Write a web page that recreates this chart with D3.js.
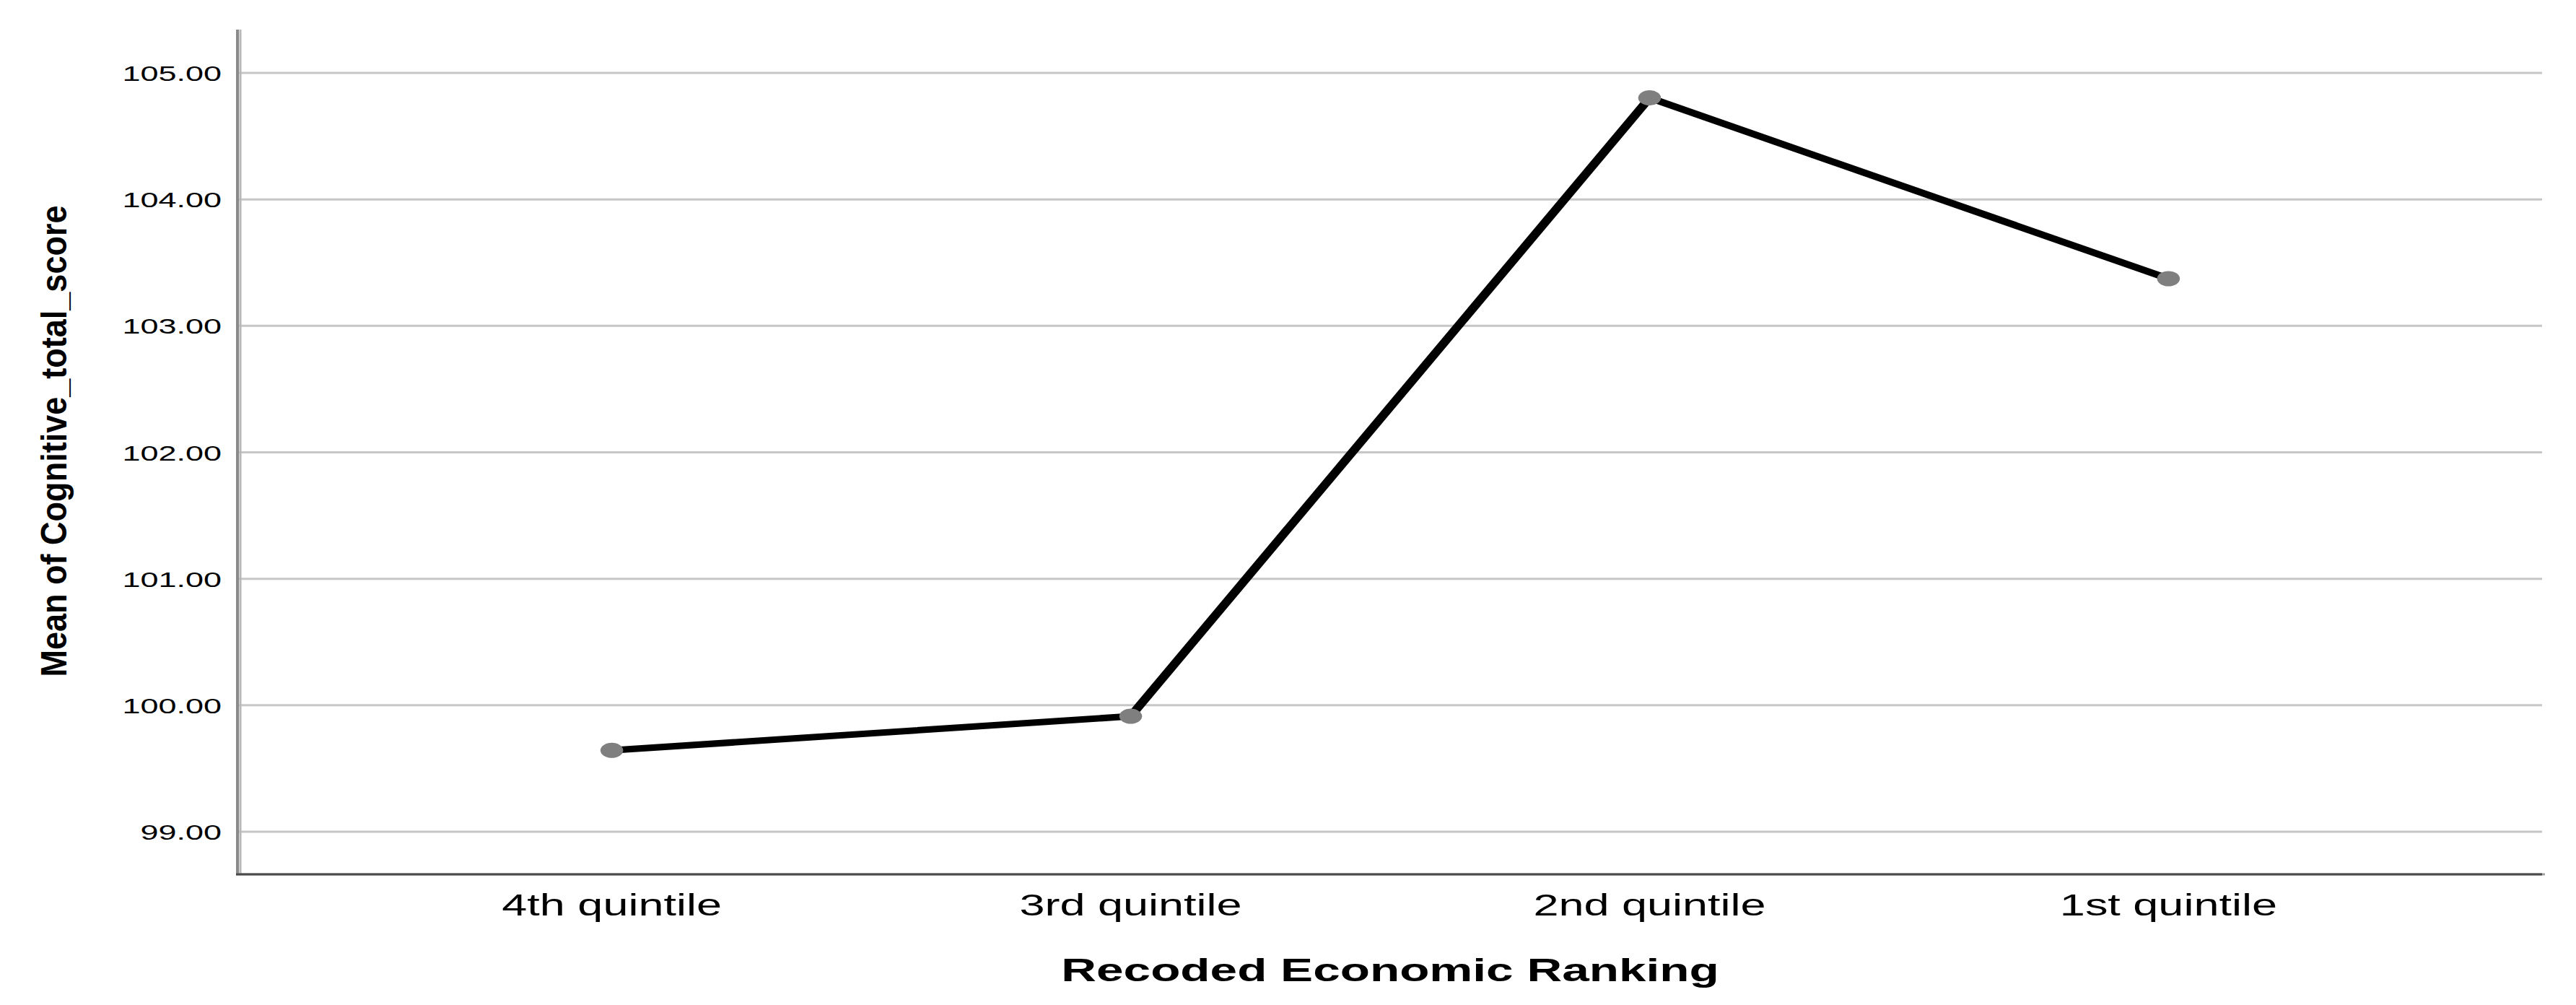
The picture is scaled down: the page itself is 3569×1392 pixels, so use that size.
<!DOCTYPE html>
<html>
<head>
<meta charset="utf-8">
<script src="https://cdn.jsdelivr.net/npm/d3@7"></script>
<style>
  html, body { margin: 0; padding: 0; background: #ffffff; }
  svg { display: block; }
  text { font-family: "Liberation Sans", Arial, sans-serif; fill: #000; }
</style>
</head>
<body>
<svg id="chart" width="3569" height="1392"></svg>
<script>
// ---- data ----
const categories = ["4th quintile", "3rd quintile", "2nd quintile", "1st quintile"];
const meanScores = [99.64, 99.91, 104.80, 103.37];
const yTickValues = [99, 100, 101, 102, 103, 104, 105];
const xAxisTitle = "Recoded Economic Ranking";
const yAxisTitle = "Mean of Cognitive_total_score";

(function () {
// ---- layout ----
const W = 3569, H = 1392;
const pLeft = 330, pRight = 3522, pTop = 41, pBottom = 1211;
const sx = 1.5; // horizontal stretch of the original picture

const svg = d3.select("#chart");
svg.append("rect").attr("width", W).attr("height", H).attr("fill", "#fff");

const y = d3.scaleLinear().domain([98.66, 105.34]).range([pBottom, pTop]);
// x scale in un-stretched space (group is scaled by sx)
const xs = d3.scalePoint().domain(categories).range([pLeft / sx, pRight / sx]).padding(0.72);
const x = d => xs(d) * sx;

// gridlines
const grid = svg.append("g").attr("transform", `translate(${pLeft},0)`)
  .call(d3.axisRight(y).tickValues(yTickValues).tickSize(pRight - pLeft).tickFormat(""));
grid.select(".domain").remove();
grid.selectAll(".tick line").attr("stroke", "#c6c6c6").attr("stroke-width", 3);

// y axis labels
const yAxis = svg.append("g").attr("transform", `translate(${pLeft},0)`)
  .call(d3.axisLeft(y).tickValues(yTickValues).tickSize(0).tickFormat(d3.format(".2f")));
yAxis.select(".domain").remove();
yAxis.selectAll(".tick text")
  .attr("x", 0).attr("dy", null)
  .attr("text-anchor", "end")
  .attr("transform", `translate(-23,11) scale(${sx},1)`)
  .style("font-size", "30px")
  .style("font-family", "'Liberation Sans', Arial, sans-serif")
  .attr("fill", "#000");

// y axis line (double-toned)
svg.append("line").attr("x1", pLeft - 1).attr("x2", pLeft - 1).attr("y1", pTop).attr("y2", pBottom + 1)
  .attr("stroke", "#8a8a8a").attr("stroke-width", 4);
svg.append("line").attr("x1", pLeft + 3).attr("x2", pLeft + 3).attr("y1", pTop).attr("y2", pBottom)
  .attr("stroke", "#b8b8b8").attr("stroke-width", 3);

// x axis line
svg.append("line").attr("x1", pLeft - 3).attr("x2", pRight + 4).attr("y1", pBottom).attr("y2", pBottom)
  .attr("stroke", "#a0a0a0").attr("stroke-width", 3);
svg.append("line").attr("x1", pLeft - 3).attr("x2", pRight).attr("y1", pBottom).attr("y2", pBottom)
  .attr("stroke", "#4a4a4a").attr("stroke-width", 3);

// x axis tick labels
const xAxis = svg.append("g").attr("transform", `translate(0,${pBottom})`);
xAxis.selectAll("text").data(categories).enter().append("text")
  .attr("transform", d => `translate(${x(d)},57) scale(${sx},1)`)
  .attr("text-anchor", "middle")
  .style("font-size", "42px")
  .text(d => d);

// line + points in stretched group
const g = svg.append("g").attr("transform", `scale(${sx},1)`);
const line = d3.line().x((d, i) => xs(categories[i])).y(d => y(d));
g.append("path").datum(meanScores)
  .attr("d", line)
  .attr("fill", "none")
  .attr("stroke", "#000")
  .attr("stroke-width", 9)
  .attr("stroke-linejoin", "round");
g.selectAll("circle").data(meanScores).enter().append("circle")
  .attr("cx", (d, i) => xs(categories[i]))
  .attr("cy", d => y(d))
  .attr("r", 10.5)
  .attr("fill", "#7f7f7f");

// axis titles
svg.append("text")
  .attr("transform", `translate(${(pLeft + pRight) / 2},1359) scale(${sx},1)`)
  .attr("text-anchor", "middle")
  .style("font-size", "45px")
  .style("font-weight", "bold")
  .text(xAxisTitle);

svg.append("text")
  .attr("transform", `translate(92,611) rotate(-90)`)
  .attr("text-anchor", "middle")
  .attr("textLength", 653)
  .attr("lengthAdjust", "spacingAndGlyphs")
  .style("font-size", "50px")
  .style("font-weight", "bold")
  .text(yAxisTitle);
})();
</script>
</body>
</html>
